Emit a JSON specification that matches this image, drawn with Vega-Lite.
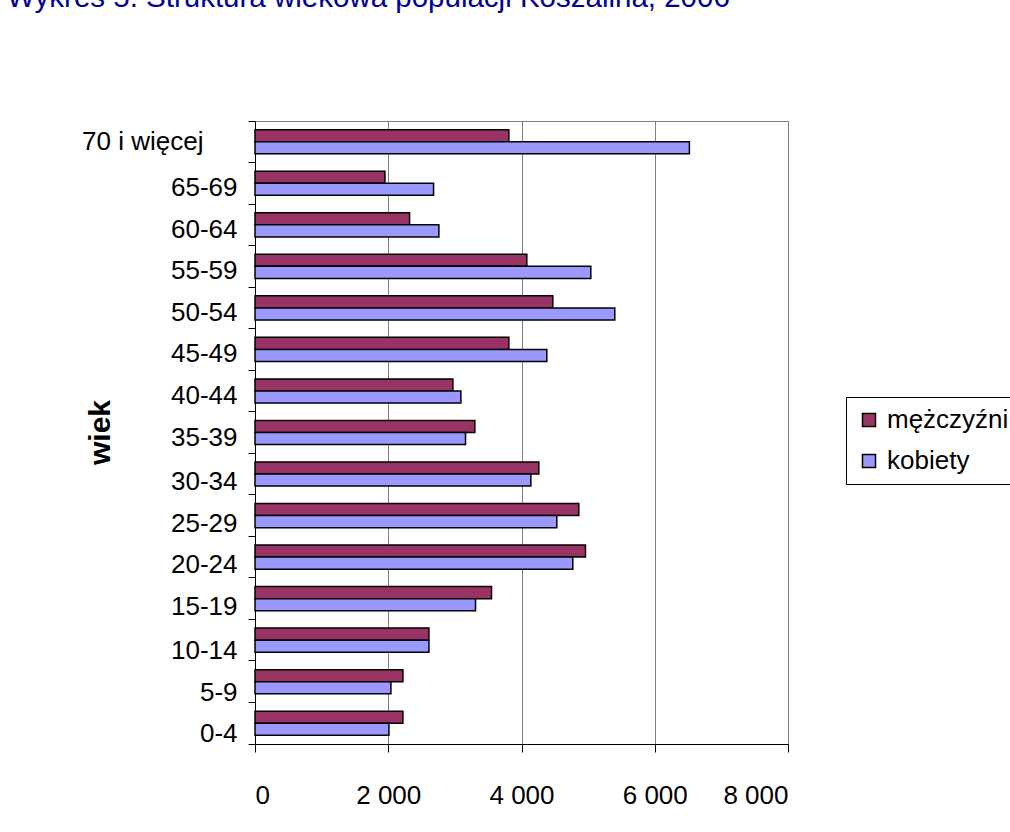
{
  "$schema": "https://vega.github.io/schema/vega-lite/v6.json",
  "autosize": {"type": "none"},
  "padding": {"left": 255, "top": 121, "right": 222, "bottom": 88},
  "width": 533,
  "height": 623,
  "background": "white",
  "title": {
    "text": "Wykres 5. Struktura wiekowa populacji Koszalina, 2006",
    "anchor": "start",
    "frame": "group",
    "orient": "top",
    "baseline": "alphabetic",
    "offset": 72,
    "dx": -248,
    "font": "Liberation Sans",
    "fontSize": 29.5,
    "fontWeight": "normal",
    "color": "#000099"
  },
  "data": {
    "values": [
      {"wiek": "70 i więcej", "plec": "mężczyźni", "liczba": 3810},
      {"wiek": "70 i więcej", "plec": "kobiety", "liczba": 6520},
      {"wiek": "65-69", "plec": "mężczyźni", "liczba": 1950},
      {"wiek": "65-69", "plec": "kobiety", "liczba": 2680},
      {"wiek": "60-64", "plec": "mężczyźni", "liczba": 2320},
      {"wiek": "60-64", "plec": "kobiety", "liczba": 2760},
      {"wiek": "55-59", "plec": "mężczyźni", "liczba": 4080},
      {"wiek": "55-59", "plec": "kobiety", "liczba": 5040},
      {"wiek": "50-54", "plec": "mężczyźni", "liczba": 4470},
      {"wiek": "50-54", "plec": "kobiety", "liczba": 5400},
      {"wiek": "45-49", "plec": "mężczyźni", "liczba": 3810},
      {"wiek": "45-49", "plec": "kobiety", "liczba": 4380},
      {"wiek": "40-44", "plec": "mężczyźni", "liczba": 2970},
      {"wiek": "40-44", "plec": "kobiety", "liczba": 3090},
      {"wiek": "35-39", "plec": "mężczyźni", "liczba": 3300},
      {"wiek": "35-39", "plec": "kobiety", "liczba": 3160},
      {"wiek": "30-34", "plec": "mężczyźni", "liczba": 4260},
      {"wiek": "30-34", "plec": "kobiety", "liczba": 4140},
      {"wiek": "25-29", "plec": "mężczyźni", "liczba": 4860},
      {"wiek": "25-29", "plec": "kobiety", "liczba": 4530},
      {"wiek": "20-24", "plec": "mężczyźni", "liczba": 4960},
      {"wiek": "20-24", "plec": "kobiety", "liczba": 4770},
      {"wiek": "15-19", "plec": "mężczyźni", "liczba": 3550},
      {"wiek": "15-19", "plec": "kobiety", "liczba": 3310},
      {"wiek": "10-14", "plec": "mężczyźni", "liczba": 2610},
      {"wiek": "10-14", "plec": "kobiety", "liczba": 2610},
      {"wiek": "5-9", "plec": "mężczyźni", "liczba": 2220},
      {"wiek": "5-9", "plec": "kobiety", "liczba": 2040},
      {"wiek": "0-4", "plec": "mężczyźni", "liczba": 2220},
      {"wiek": "0-4", "plec": "kobiety", "liczba": 2010}
    ]
  },
  "mark": {"type": "bar", "stroke": "black", "strokeWidth": 1.5},
  "encoding": {
    "y": {
      "field": "wiek",
      "type": "nominal",
      "sort": ["70 i więcej", "65-69", "60-64", "55-59", "50-54", "45-49", "40-44", "35-39", "30-34", "25-29", "20-24", "15-19", "10-14", "5-9", "0-4"],
      "scale": {"paddingInner": 0, "paddingOuter": 0},
      "axis": {
        "title": "wiek",
        "titleFont": "Liberation Sans",
        "titleFontSize": 30,
        "titleFontWeight": "bold",
        "titleColor": "black",
        "titleAngle": -90,
        "titleAlign": "center",
        "titleBaseline": "middle",
        "titleX": -155,
        "titleY": 311,
        "labelFont": "Liberation Sans",
        "labelFontSize": 26,
        "labelColor": "black",
        "labelAlign": "right",
        "labelBaseline": "middle",
        "labelOffset": {
          "condition": [
            {"test": "datum.value === '70 i więcej'", "value": 0},
            {"test": "indexof(['10-14', '5-9', '0-4'], datum.value) >= 0", "value": 11},
            {"test": "indexof(['30-34', '25-29', '20-24', '15-19'], datum.value) >= 0", "value": 8}
          ],
          "value": 5
        },
        "labelPadding": {"condition": {"test": "datum.value === '70 i więcej'", "value": 45}, "value": 11},
        "bandPosition": 1,
        "tickExtra": true,
        "tickSize": 7,
        "tickColor": "black",
        "tickWidth": 1,
        "domainColor": "black",
        "domainWidth": 1,
        "grid": false
      }
    },
    "yOffset": {
      "field": "plec",
      "type": "nominal",
      "sort": ["mężczyźni", "kobiety"],
      "scale": {"paddingInner": 0, "paddingOuter": 0.72}
    },
    "x": {
      "field": "liczba",
      "type": "quantitative",
      "scale": {"domain": [0, 8000], "nice": false},
      "axis": {
        "title": null,
        "values": [0, 2000, 4000, 6000, 8000],
        "labelExpr": "replace(format(datum.value, ','), ',', ' ')",
        "labelFont": "Liberation Sans",
        "labelFontSize": 26,
        "labelColor": "black",
        "labelPadding": 30,
        "tickSize": 8,
        "tickColor": "black",
        "domainColor": "black",
        "domainWidth": 1,
        "grid": true,
        "gridColor": "#808080",
        "gridWidth": 1
      }
    },
    "color": {
      "field": "plec",
      "type": "nominal",
      "sort": ["mężczyźni", "kobiety"],
      "scale": {"domain": ["mężczyźni", "kobiety"], "range": ["#993366", "#9999FF"]},
      "legend": {
        "title": null,
        "orient": "none",
        "legendX": 591,
        "legendY": 276,
        "direction": "vertical",
        "symbolType": "square",
        "symbolSize": 169,
        "symbolStrokeColor": "black",
        "symbolStrokeWidth": 1.5,
        "labelFont": "Liberation Sans",
        "labelFontSize": 26,
        "labelColor": "black",
        "labelOffset": 5,
        "rowPadding": 15,
        "padding": 10,
        "strokeColor": "black",
        "fillColor": "white"
      }
    }
  },
  "config": {
    "view": {"stroke": "#808080", "strokeWidth": 1},
    "font": "Liberation Sans"
  }
}
